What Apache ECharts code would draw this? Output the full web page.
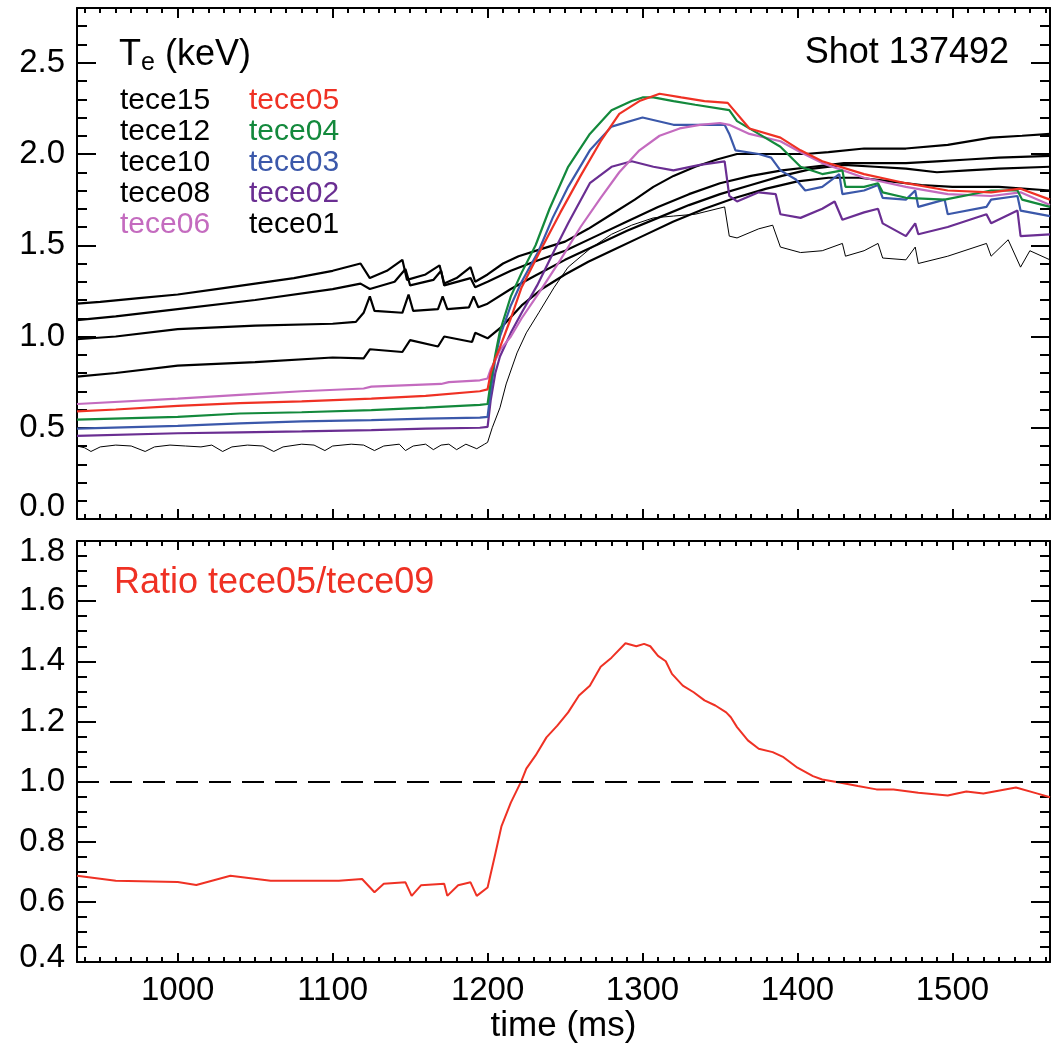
<!DOCTYPE html>
<html><head><meta charset="utf-8">
<script src="https://cdn.jsdelivr.net/npm/echarts@6/dist/echarts.min.js"></script>
<style>html,body{margin:0;padding:0;background:#fff}#c{width:1057px;height:1051px}</style>
</head><body><div id="c"></div>
<script>
// ---- data: [time (ms), value] ----
const tece15 = [[935,1.18],[950,1.19],[975,1.21],[1000,1.23],[1025,1.26],[1050,1.29],[1075,1.32],[1100,1.36],[1118,1.40],[1124,1.32],[1135,1.36],[1145,1.42],[1148,1.31],[1160,1.34],[1169,1.39],[1172,1.29],[1180,1.32],[1189,1.38],[1192,1.30],[1200,1.34],[1210,1.40],[1220,1.44],[1235,1.48],[1250,1.52],[1265,1.59],[1280,1.67],[1295,1.75],[1307,1.82],[1320,1.88],[1334,1.93],[1348,1.97],[1361,2.00],[1375,2.00],[1390,2.00],[1405,2.00],[1420,2.01],[1443,2.03],[1470,2.03],[1497,2.05],[1525,2.09],[1545,2.10],[1563,2.11]];
const tece12 = [[935,1.09],[960,1.11],[1000,1.15],[1050,1.20],[1100,1.26],[1118,1.29],[1124,1.26],[1140,1.30],[1147,1.37],[1150,1.28],[1165,1.31],[1170,1.36],[1172,1.28],[1189,1.32],[1192,1.27],[1200,1.30],[1215,1.36],[1230,1.41],[1250,1.47],[1270,1.55],[1290,1.63],[1310,1.71],[1330,1.78],[1350,1.84],[1370,1.88],[1390,1.91],[1410,1.93],[1430,1.95],[1450,1.95],[1470,1.95],[1490,1.96],[1510,1.97],[1530,1.98],[1563,1.99]];
const tece10 = [[935,0.985],[960,1.0],[1000,1.04],[1050,1.06],[1100,1.07],[1115,1.08],[1120,1.13],[1124,1.22],[1127,1.14],[1145,1.13],[1149,1.23],[1152,1.14],[1168,1.15],[1171,1.22],[1174,1.15],[1188,1.16],[1191,1.22],[1194,1.16],[1200,1.18],[1215,1.26],[1230,1.33],[1250,1.42],[1270,1.50],[1290,1.58],[1310,1.65],[1330,1.72],[1350,1.78],[1370,1.83],[1390,1.88],[1410,1.92],[1430,1.94],[1450,1.93],[1470,1.92],[1490,1.90],[1510,1.91],[1530,1.92],[1563,1.93]];
const tece08 = [[935,0.78],[960,0.80],[1000,0.84],[1050,0.86],[1100,0.885],[1120,0.88],[1124,0.93],[1145,0.915],[1150,0.98],[1168,0.945],[1172,1.0],[1190,0.97],[1192,1.02],[1200,0.99],[1210,1.06],[1222,1.17],[1235,1.26],[1250,1.34],[1265,1.41],[1280,1.47],[1300,1.55],[1320,1.63],[1340,1.70],[1360,1.76],[1380,1.81],[1400,1.85],[1420,1.87],[1440,1.87],[1460,1.85],[1480,1.83],[1500,1.82],[1530,1.82],[1563,1.80]];
const tece06 = [[935,0.63],[1000,0.66],[1040,0.68],[1080,0.70],[1120,0.715],[1125,0.725],[1170,0.74],[1175,0.75],[1195,0.76],[1200,0.77],[1202,0.82],[1205,0.87],[1208,0.925],[1215,1.00],[1222,1.10],[1234,1.25],[1247,1.42],[1260,1.60],[1273,1.76],[1285,1.90],[1298,2.02],[1311,2.10],[1324,2.14],[1337,2.16],[1350,2.17],[1356,2.16],[1369,2.11],[1389,2.07],[1402,2.01],[1416,1.95],[1443,1.87],[1470,1.82],[1497,1.78],[1525,1.77],[1544,1.79],[1563,1.72]];
const tece05 = [[935,0.59],[960,0.60],[1000,0.62],[1040,0.635],[1080,0.645],[1125,0.66],[1160,0.675],[1195,0.70],[1200,0.71],[1202,0.80],[1205,0.88],[1208,0.94],[1215,1.10],[1222,1.27],[1234,1.47],[1247,1.68],[1260,1.88],[1273,2.07],[1285,2.22],[1298,2.29],[1311,2.33],[1325,2.31],[1340,2.29],[1355,2.28],[1369,2.14],[1389,2.09],[1402,2.02],[1416,1.96],[1443,1.89],[1470,1.84],[1497,1.80],[1525,1.79],[1544,1.81],[1563,1.75]];
const tece04 = [[935,0.545],[1000,0.56],[1040,0.578],[1080,0.585],[1125,0.597],[1160,0.61],[1195,0.625],[1200,0.63],[1202,0.75],[1205,0.90],[1208,1.03],[1215,1.22],[1222,1.35],[1231,1.50],[1240,1.70],[1252,1.93],[1266,2.11],[1280,2.24],[1293,2.29],[1300,2.31],[1307,2.31],[1320,2.29],[1334,2.27],[1356,2.24],[1361,2.18],[1375,2.11],[1389,2.04],[1402,1.93],[1416,1.89],[1429,1.91],[1431,1.82],[1443,1.82],[1452,1.84],[1455,1.79],[1470,1.76],[1495,1.75],[1525,1.80],[1542,1.80],[1545,1.75],[1563,1.71]];
const tece03 = [[935,0.495],[1000,0.51],[1040,0.524],[1080,0.535],[1125,0.542],[1160,0.55],[1195,0.555],[1200,0.56],[1202,0.70],[1205,0.88],[1208,1.00],[1215,1.17],[1222,1.30],[1233,1.47],[1242,1.65],[1252,1.82],[1266,2.02],[1280,2.15],[1300,2.20],[1320,2.16],[1353,2.16],[1356,2.11],[1360,2.02],[1375,2.00],[1383,1.98],[1389,1.91],[1399,1.86],[1405,1.80],[1416,1.82],[1427,1.89],[1429,1.78],[1443,1.80],[1452,1.83],[1455,1.76],[1470,1.75],[1476,1.80],[1478,1.71],[1495,1.75],[1497,1.67],[1522,1.71],[1525,1.75],[1542,1.77],[1544,1.69],[1563,1.66]];
const tece02 = [[935,0.456],[1000,0.47],[1040,0.475],[1080,0.48],[1125,0.487],[1160,0.495],[1195,0.50],[1200,0.505],[1202,0.65],[1205,0.80],[1208,0.89],[1215,1.02],[1222,1.13],[1232,1.28],[1243,1.47],[1252,1.62],[1266,1.84],[1280,1.93],[1293,1.96],[1307,1.93],[1320,1.91],[1337,1.94],[1353,1.96],[1356,1.77],[1361,1.74],[1375,1.79],[1386,1.78],[1389,1.67],[1402,1.65],[1416,1.70],[1424,1.74],[1429,1.64],[1443,1.68],[1452,1.70],[1455,1.62],[1470,1.55],[1476,1.62],[1478,1.56],[1497,1.60],[1522,1.67],[1525,1.62],[1542,1.69],[1544,1.55],[1563,1.56]];
const tece01 = [[935,0.40],[940,0.39],[944,0.37],[950,0.395],[960,0.405],[970,0.40],[979,0.37],[985,0.395],[995,0.405],[1005,0.40],[1015,0.395],[1022,0.405],[1029,0.37],[1035,0.395],[1045,0.405],[1055,0.40],[1062,0.37],[1068,0.395],[1080,0.41],[1088,0.405],[1095,0.375],[1100,0.40],[1112,0.41],[1120,0.405],[1127,0.375],[1133,0.40],[1143,0.41],[1147,0.375],[1152,0.40],[1160,0.41],[1165,0.38],[1170,0.405],[1175,0.41],[1180,0.38],[1186,0.41],[1193,0.385],[1198,0.41],[1200,0.42],[1203,0.50],[1208,0.61],[1212,0.74],[1219,0.91],[1225,1.02],[1233,1.13],[1243,1.27],[1252,1.38],[1266,1.48],[1280,1.56],[1293,1.61],[1307,1.65],[1320,1.66],[1334,1.67],[1353,1.71],[1356,1.55],[1361,1.54],[1375,1.59],[1384,1.61],[1389,1.49],[1402,1.46],[1416,1.47],[1429,1.51],[1431,1.44],[1443,1.47],[1452,1.51],[1455,1.43],[1470,1.42],[1476,1.49],[1478,1.40],[1497,1.44],[1522,1.51],[1525,1.44],[1536,1.53],[1544,1.38],[1550,1.47],[1563,1.42]];
const ratio0509 = [[935,0.687],[960,0.67],[1000,0.666],[1012,0.656],[1034,0.687],[1060,0.67],[1104,0.67],[1119,0.676],[1127,0.632],[1133,0.66],[1147,0.665],[1151,0.62],[1157,0.655],[1172,0.66],[1174,0.62],[1181,0.655],[1189,0.665],[1193,0.62],[1200,0.648],[1205,0.76],[1209,0.852],[1215,0.93],[1222,1.004],[1225,1.043],[1231,1.087],[1238,1.147],[1245,1.186],[1252,1.23],[1259,1.286],[1266,1.319],[1273,1.382],[1280,1.412],[1289,1.46],[1296,1.45],[1301,1.458],[1305,1.45],[1310,1.418],[1315,1.40],[1319,1.358],[1326,1.319],[1333,1.297],[1340,1.27],[1347,1.253],[1354,1.23],[1357,1.214],[1361,1.181],[1368,1.137],[1375,1.109],[1384,1.098],[1391,1.081],[1400,1.046],[1410,1.018],[1416,1.007],[1428,0.996],[1439,0.985],[1451,0.974],[1462,0.974],[1478,0.963],[1497,0.954],[1509,0.967],[1520,0.96],[1541,0.98],[1555,0.96],[1563,0.948]];

const xMajorTicks = [1000,1100,1200,1300,1400,1500];
const teMajorTicks = [0,0.5,1.0,1.5,2.0,2.5];
const ratioMajorTicks = [0.4,0.6,0.8,1.0,1.2,1.4,1.6,1.8];
const legendCol1 = ['tece15','tece12','tece10','tece08','tece06'];
const legendCol2 = ['tece05','tece04','tece03','tece02','tece01'];

const X_MIN = 935, X_MAX = 1563;
const TE_MIN = 0, TE_MAX = 2.8;
const R_MIN = 0.4, R_MAX = 1.8;

const C = {black:'#000000', pink:'#c46bbf', red:'#ef3124', green:'#13893c', blue:'#3b58aa', purple:'#6a2e92'};
const FONT = 'Liberation Sans, Arial, Helvetica, sans-serif';

function range(a, b, step){ const out=[]; for(let v=a; v<=b+1e-9; v+=step){ out.push(Math.round(v*1000)/1000);} return out; }
function minorOf(majors, a, b, step){ return range(a,b,step).filter(v => !majors.some(m => Math.abs(m-v)<1e-6)); }

const xMinorTicks = minorOf(xMajorTicks, 940, 1560, 10);
const teMinorTicks = minorOf(teMajorTicks, 0.1, 2.7, 0.1);
const ratioMinorTicks = minorOf(ratioMajorTicks, 0.45, 1.75, 0.05);

const xAxes = [], yAxes = [];
function mkAxis(list, o){
  list.push(Object.assign({
    type:'value', splitLine:{show:false},
    axisLine:{show:false, onZero:false, lineStyle:{color:'#000', width:2}},
    axisTick:{show:true, inside:true, lineStyle:{color:'#000', width:2}},
    axisLabel:{show:false},
  }, o));
  return list.length-1;
}
function addFrameAxes(grid, dim, min, max, majors, minors, majLen, minLen, labels){
  const list = dim === 'x' ? xAxes : yAxes;
  const posA = dim === 'x' ? 'bottom' : 'left';
  const posB = dim === 'x' ? 'top' : 'right';
  let main = -1;
  [posA, posB].forEach((pos, k) => {
    const idx = mkAxis(list, {gridIndex:grid, position:pos, min, max,
      axisLine:{show:true, onZero:false, lineStyle:{color:'#000', width:2}},
      axisTick:{show:true, inside:true, length:majLen, customValues:majors, lineStyle:{color:'#000', width:2}},
      axisLabel: (k===0 && labels) ? Object.assign({show:true, customValues:majors, color:'#000', fontFamily:FONT, fontSize:33}, labels) : {show:false}
    });
    if (k===0) main = idx;
    mkAxis(list, {gridIndex:grid, position:pos, min, max,
      axisTick:{show:true, inside:true, length:minLen, customValues:minors, lineStyle:{color:'#000', width:2}}});
  });
  return main;
}

// y labels at the panel edges sit inside the frame, as in the original
function yLabel(shiftMap){
  return v => {
    const s = v.toFixed(1);
    return shiftMap[s] ? '{' + shiftMap[s] + '|' + s + '}' : s;
  };
}
const richShift = {
  up12:{fontSize:33, fontFamily:FONT, color:'#000', padding:[0,0,24,0]},
  up4:{fontSize:33, fontFamily:FONT, color:'#000', padding:[0,0,8,0]},
  dn11:{fontSize:33, fontFamily:FONT, color:'#000', padding:[22,0,0,0]}
};

const grids = [
  {left:77, top:8, width:973, height:511},
  {left:77, top:541, width:973, height:421}
];
const xTop = addFrameAxes(0, 'x', X_MIN, X_MAX, xMajorTicks, xMinorTicks, 10, 5, null);
const yTop = addFrameAxes(0, 'y', TE_MIN, TE_MAX, teMajorTicks, teMinorTicks, 19, 10, {margin:12, formatter:yLabel({'0.0':'up12'}), rich:richShift});
const xBot = addFrameAxes(1, 'x', X_MIN, X_MAX, xMajorTicks, xMinorTicks, 9, 5, {margin:12, formatter:v=>String(v)});
const yBot = addFrameAxes(1, 'y', R_MIN, R_MAX, ratioMajorTicks, ratioMinorTicks, 19, 10, {margin:12, formatter:yLabel({'1.8':'dn11','0.4':'up4'}), rich:richShift});
Object.assign(xAxes[xBot], {name:'time (ms)', nameLocation:'middle', nameGap:47, nameTextStyle:{color:'#000', fontFamily:FONT, fontSize:35}});

function line(name, data, color, width, xi, yi){
  return {name, type:'line', data, xAxisIndex:xi, yAxisIndex:yi, showSymbol:false, symbol:'none', smooth:false,
    lineStyle:{color, width}, itemStyle:{color}, animation:false, silent:true, clip:true};
}
const series = [
  line('tece01', tece01, C.black, 1, xTop, yTop),
  line('tece15', tece15, C.black, 2.2, xTop, yTop),
  line('tece12', tece12, C.black, 2.2, xTop, yTop),
  line('tece10', tece10, C.black, 2.2, xTop, yTop),
  line('tece08', tece08, C.black, 2.2, xTop, yTop),
  line('tece02', tece02, C.purple, 2.2, xTop, yTop),
  line('tece03', tece03, C.blue, 2.2, xTop, yTop),
  line('tece06', tece06, C.pink, 2.2, xTop, yTop),
  line('tece04', tece04, C.green, 2.2, xTop, yTop),
  line('tece05', tece05, C.red, 2.2, xTop, yTop),
  Object.assign(line('tece05/tece09', ratio0509, C.red, 2, xBot, yBot), {
    markLine:{symbol:'none', silent:true, animation:false, label:{show:false},
      lineStyle:{color:'#000', width:2, type:[22,11]}, data:[{yAxis:1.0}]}
  })
];

const legendColors = {tece15:C.black,tece12:C.black,tece10:C.black,tece08:C.black,tece06:C.pink,tece05:C.red,tece04:C.green,tece03:C.blue,tece02:C.purple,tece01:C.black};
const graphics = [];
function txt(text, x, y, color, size, align){
  graphics.push({type:'text', x, y, silent:true, style:{text, fill:color, font:size+'px '+FONT, textAlign:align||'left', textVerticalAlign:'middle'}});
}
graphics.push({type:'text', x:119, y:55, silent:true, style:{
  text:'{a|T}{s|e}{a| (keV)}', fill:'#000', textVerticalAlign:'middle',
  rich:{a:{fontSize:36, fontFamily:FONT, fill:'#000'}, s:{fontSize:25, fontFamily:FONT, fill:'#000', padding:[16,0,0,0]}}}});
txt('Shot 137492', 1009, 53, '#000', 36, 'right');
legendCol1.forEach((n,i)=> txt(n, 120, 101 + i*31, legendColors[n], 30));
legendCol2.forEach((n,i)=> txt(n, 249, 101 + i*31, legendColors[n], 30));
txt('Ratio tece05/tece09', 114, 583, C.red, 36);

const chart = echarts.init(document.getElementById('c'), null, {renderer:'canvas'});
chart.setOption({animation:false, backgroundColor:'#fff', grid:grids, xAxis:xAxes, yAxis:yAxes, series, graphic:graphics});
</script></body></html>
